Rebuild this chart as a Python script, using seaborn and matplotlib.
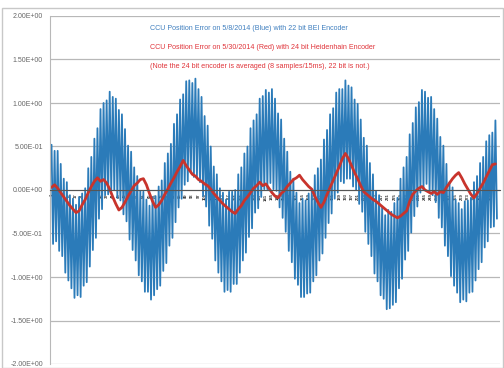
import numpy as np
import pandas as pd
import matplotlib
matplotlib.use("Agg")
import matplotlib.pyplot as plt
import seaborn as sns
from matplotlib.patches import Rectangle

# ============================================================
# DATA
# ============================================================

# blue series: each fast cycle has a high and a low sample
blue_hi = [
    0.52, 0.45, 0.45, 0.30, 0.13, 0.09, -0.06, -0.10, -0.17, -0.08,
    -0.04, 0.02, 0.25, 0.38, 0.59, 0.71, 0.93, 1.00, 1.03, 1.13,
    1.07, 1.05, 0.92, 0.87, 0.70, 0.51, 0.44, 0.26, 0.16, -0.01,
    -0.02, -0.11, -0.18, -0.08, -0.07, 0.04, 0.11, 0.31, 0.42, 0.53,
    0.76, 0.87, 1.04, 1.10, 1.25, 1.26, 1.23, 1.28, 1.16, 1.07,
    0.85, 0.74, 0.50, 0.27, 0.18, 0.02, -0.03, -0.11, -0.02, -0.02,
    0.00, 0.18, 0.26, 0.42, 0.50, 0.71, 0.80, 0.87, 1.05, 1.08,
    1.15, 1.12, 1.16, 1.05, 0.88, 0.81, 0.59, 0.44, 0.21, 0.13,
    -0.03, -0.15, -0.10, -0.12, -0.04, -0.01, 0.17, 0.25, 0.35, 0.58,
    0.69, 0.87, 0.94, 1.12, 1.16, 1.16, 1.26, 1.20, 1.18, 1.04,
    0.99, 0.81, 0.60, 0.51, 0.31, 0.18, -0.01, -0.06, -0.19, -0.29,
    -0.23, -0.25, -0.15, -0.09, 0.13, 0.26, 0.38, 0.64, 0.77, 0.95,
    1.01, 1.15, 1.13, 1.06, 1.07, 0.93, 0.82, 0.61, 0.51, 0.30,
    0.09, 0.03, -0.11, -0.15, -0.22, -0.13, -0.12, -0.09, 0.09, 0.16,
    0.31, 0.38, 0.56, 0.63, 0.66, 0.80,
]
blue_lo = [
    -0.62, -0.59, -0.70, -0.76, -0.95, -1.04, -1.13, -1.24, -1.21, -1.23,
    -1.10, -1.06, -0.88, -0.69, -0.55, -0.33, -0.22, -0.06, -0.05, 0.00,
    0.00, -0.09, -0.12, -0.28, -0.36, -0.57, -0.69, -0.81, -0.98, -1.05,
    -1.17, -1.17, -1.26, -1.21, -1.14, -1.10, -0.93, -0.84, -0.64, -0.55,
    -0.37, -0.20, -0.10, 0.06, 0.10, 0.20, 0.15, 0.15, 0.09, -0.07,
    -0.19, -0.41, -0.56, -0.81, -0.95, -1.05, -1.17, -1.15, -1.17, -1.08,
    -1.08, -0.95, -0.81, -0.72, -0.54, -0.44, -0.26, -0.21, -0.08, 0.01,
    0.01, 0.08, 0.01, -0.01, -0.20, -0.32, -0.48, -0.70, -0.83, -1.02,
    -1.09, -1.23, -1.23, -1.19, -1.18, -1.05, -0.98, -0.81, -0.73, -0.55,
    -0.38, -0.27, -0.10, -0.03, 0.10, 0.08, 0.13, 0.13, 0.04, 0.00,
    -0.16, -0.25, -0.48, -0.62, -0.76, -0.96, -1.05, -1.21, -1.25, -1.37,
    -1.36, -1.32, -1.29, -1.13, -1.02, -0.80, -0.70, -0.49, -0.30, -0.19,
    -0.03, 0.00, 0.07, -0.02, -0.06, -0.14, -0.32, -0.43, -0.64, -0.76,
    -0.99, -1.10, -1.18, -1.29, -1.26, -1.28, -1.18, -1.17, -1.04, -0.91,
    -0.83, -0.66, -0.59, -0.43, -0.42, -0.33,
]

# red series, one value per blue cycle
red_vals = [
    0.03, 0.06, 0.02, -0.03, -0.08, -0.13, -0.18, -0.22, -0.26, -0.24,
    -0.17, -0.11, -0.03, 0.04, 0.10, 0.14, 0.10, 0.12, 0.08, 0.01,
    -0.08, -0.16, -0.23, -0.20, -0.14, -0.07, -0.01, 0.05, 0.08, 0.12,
    0.13, 0.06, -0.04, -0.13, -0.20, -0.17, -0.12, -0.05, 0.01, 0.08,
    0.14, 0.21, 0.27, 0.34, 0.28, 0.23, 0.18, 0.16, 0.12, 0.10,
    0.07, 0.05, 0.01, -0.04, -0.08, -0.12, -0.16, -0.19, -0.22, -0.25,
    -0.27, -0.22, -0.18, -0.12, -0.08, -0.03, 0.02, 0.05, 0.09, 0.05,
    0.07, 0.02, -0.03, -0.07, -0.09, -0.04, -0.01, 0.04, 0.08, 0.12,
    0.14, 0.17, 0.12, 0.08, 0.04, 0.01, -0.07, -0.14, -0.20, -0.14,
    -0.05, 0.03, 0.11, 0.19, 0.27, 0.36, 0.42, 0.36, 0.28, 0.20,
    0.13, 0.05, -0.02, -0.05, -0.08, -0.11, -0.13, -0.16, -0.19, -0.22,
    -0.25, -0.28, -0.30, -0.32, -0.30, -0.27, -0.24, -0.13, -0.05, -0.01,
    0.02, 0.04, 0.00, -0.02, -0.04, -0.02, -0.05, -0.02, -0.03, 0.03,
    0.08, 0.13, 0.17, 0.20, 0.14, 0.07, 0.01, -0.05, -0.09, -0.04,
    0.02, 0.08, 0.15, 0.22, 0.29, 0.30,
]

y_ticks = [2.0, 1.5, 1.0, 0.5, 0.0, -0.5, -1.0, -1.5, -2.0]

text_lines = [
    ("CCU Position Error on 5/8/2014 (Blue) with 22 bit BEI Encoder", "#3f7fbf"),
    ("CCU Position Error on 5/30/2014 (Red) with 24 bit Heidenhain Encoder", "#e0343a"),
    ("(Note the 24 bit encoder is averaged (8 samples/15ms), 22 bit is not.)", "#e0343a"),
]

# ============================================================
# BUILD TABLES
# ============================================================

blue = [v for pair in zip(blue_hi, blue_lo) for v in pair]
blue_df = pd.DataFrame({"sample": np.arange(len(blue)), "error": blue})
red_df = pd.DataFrame({"sample": np.arange(len(red_vals)) * 2, "error": red_vals})

# ============================================================
# PLOT
# ============================================================

sns.set_style("white")
plt.rcParams["font.family"] = ["Liberation Sans", "DejaVu Sans"]

fig = plt.figure(figsize=(5.04, 3.68), dpi=100)
ax = fig.add_axes([50 / 504, 1 - 364 / 368, 450 / 504, 348 / 368])

fig.patches.append(Rectangle((0.004, 0.0), 0.994, 1 - 8 / 368,
                             transform=fig.transFigure, fill=False,
                             edgecolor="#c8c8c8", linewidth=1.0))

sns.lineplot(data=blue_df, x="sample", y="error", ax=ax,
             color="#2b7bb9", linewidth=1.3)
sns.lineplot(data=red_df, x="sample", y="error", ax=ax,
             color="#c8342c", linewidth=2.0)

# category axis crosses at zero (set before styling ticks, it resets them)
ax.spines["bottom"].set_position(("data", 0))
ax.spines["bottom"].set_color("#555555")
ax.spines["bottom"].set_linewidth(0.8)
ax.spines["left"].set_color("#b8b8b8")
ax.spines["right"].set_visible(False)
ax.spines["top"].set_visible(False)

ax.set_xlim(-1, len(blue) + 1)
ax.set_ylim(-2.0, 2.0)

ax.set_yticks(y_ticks)
ax.set_yticklabels([f"{v:.2E}" for v in y_ticks], fontsize=5.0, color="#666666")
for v in y_ticks:
    ax.axhline(v, color="#b8b8b8", linewidth=0.9, zorder=0)

x_pos = np.arange(0, len(blue), 4)
ax.set_xticks(x_pos)
ax.set_xticklabels([str(i + 1) for i in x_pos], rotation=90,
                   fontsize=3.0, color="#333333", fontweight="bold")
ax.tick_params(axis="x", length=2, width=0.5, pad=0.5, color="#555555")
ax.tick_params(axis="y", length=0, pad=5)

ax.set_xlabel("")
ax.set_ylabel("")

for i, (txt, col) in enumerate(text_lines):
    fig.text(150 / 504, 1 - (29 + i * 18.5) / 368, txt, color=col,
             fontsize=5.1, va="center", ha="left")

fig.savefig("out.png", dpi=100)
